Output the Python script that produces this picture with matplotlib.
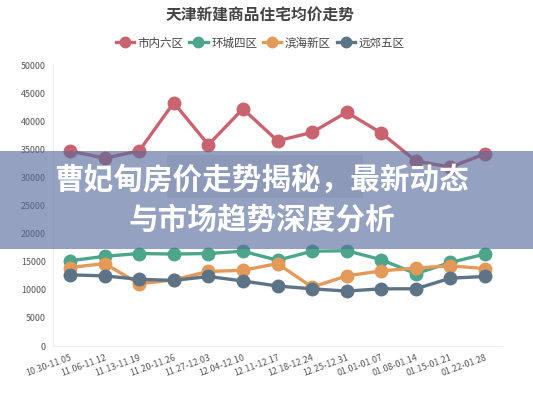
import matplotlib
matplotlib.use("Agg")
import matplotlib.pyplot as plt
from matplotlib.patches import Rectangle
from matplotlib.lines import Line2D

plt.rcParams['font.family'] = ['Noto Sans CJK SC', 'DejaVu Sans']

weeks = ["10.30-11.05", "11.06-11.12", "11.13-11.19", "11.20-11.26", "11.27-12.03",
         "12.04-12.10", "12.11-12.17", "12.18-12.24", "12.25-12.31", "01.01-01.07",
         "01.08-01.14", "01.15-01.21", "01.22-01.28"]

series_names = ["市内六区", "环城四区", "滨海新区", "远郊五区"]
inner_six = [34800, 33500, 34800, 43400, 35900, 42300, 36600, 38100, 41700, 38000, 33000, 31900, 34300]
ring_four = [15200, 16000, 16500, 16400, 16500, 16900, 15300, 16900, 17000, 15400, 12900, 14900, 16400]
binhai = [14000, 14700, 11100, 11800, 13300, 13500, 14700, 10500, 12500, 13400, 13900, 14300, 13800]
outer_five = [12700, 12500, 11900, 11700, 12400, 11600, 10700, 10200, 9800, 10200, 10200, 12100, 12400]
colors = ["#c9636f", "#4da58c", "#e39a58", "#5d7386"]

yticks = list(range(0, 50001, 5000))

W, H = 533, 400
fig = plt.figure(figsize=(W / 100, H / 100), dpi=100)
fig.patch.set_facecolor("white")

ax = fig.add_axes([52.7 / W, 1 - 346 / H, (502.3 - 52.7) / W, (346 - 65.7) / H])
x = list(range(len(weeks)))
for vals, c in zip([inner_six, ring_four, binhai, outer_five], colors):
    ax.plot(x, vals, color=c, lw=2.4, marker="o", ms=9, mec=c, mfc=c, zorder=3)

ax.set_xlim(-0.5, len(weeks) - 0.5)
ax.set_ylim(0, 50000)
ax.set_yticks(yticks)
ax.set_yticklabels([str(v) for v in yticks], fontsize=6.4, color="#555555")
ax.set_xticks(x)
ax.set_xticklabels(weeks, fontsize=6.4, color="#555555", rotation=20,
                   ha="right", rotation_mode="anchor")
ax.tick_params(axis="both", length=0, pad=5)
for side in ["top", "right"]:
    ax.spines[side].set_visible(False)
ax.spines["left"].set_color("#f0f0f0")
ax.spines["bottom"].set_color("#eeeeee")
ax.spines["left"].set_linewidth(0.8)
ax.spines["bottom"].set_linewidth(0.8)

fig.text(260 / W, 1 - 16 / H, "天津新建商品住宅均价走势", ha="center", va="center",
         fontsize=11.3, fontweight="bold", color="#444444")

handles = [Line2D([0], [0], color=c, lw=2.4, marker="o", ms=7.5, mfc=c, mec=c)
           for c in colors]
fig.legend(handles, series_names, loc="center", bbox_to_anchor=(260 / W, 1 - 43 / H),
           ncol=4, frameon=False, fontsize=8.3, handlelength=1.6, handletextpad=0.3,
           columnspacing=0.5, labelcolor="#444444")

# banner across the chart
fig.patches.append(Rectangle((0, 1 - 249 / H), 1, 98 / H, transform=fig.transFigure,
                             facecolor="#576a9c", alpha=0.63, edgecolor="none", zorder=10))
fig.patches.append(Rectangle((167 / W, 1 - 198 / H), 196 / W, 43 / H, transform=fig.transFigure,
                             facecolor="#3a4466", alpha=0.08, edgecolor="none", zorder=11))
fig.text(262 / W, 1 - 180 / H, "曹妃甸房价走势揭秘，最新动态", ha="center", va="center",
         fontsize=21.3, fontweight="heavy", color="white", zorder=12)
fig.text(262 / W, 1 - 220 / H, "与市场趋势深度分析", ha="center", va="center",
         fontsize=21.3, fontweight="heavy", color="white", zorder=12)

fig.savefig("out.png", dpi=100)
